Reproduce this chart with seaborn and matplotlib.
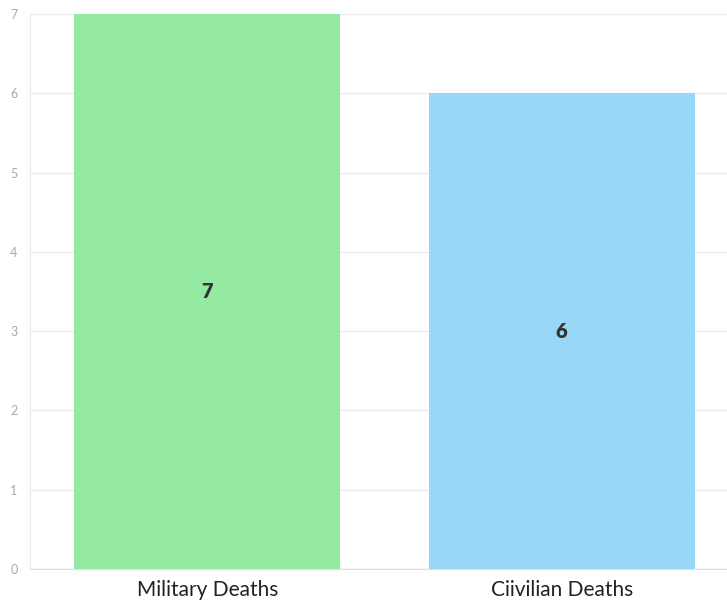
import matplotlib
matplotlib.use("Agg")
import matplotlib.pyplot as plt
import seaborn as sns
import pandas as pd

categorias = ["Military Deaths", "Ciivilian Deaths"]
valores = [7, 6]
colores = ["#94eaa0", "#98d7f7"]

df = pd.DataFrame({"categoria": categorias, "valor": valores})

sns.set_style("white")
plt.rcParams["font.family"] = ["Lato", "DejaVu Sans"]

fig = plt.figure(figsize=(7.27, 6.01), dpi=100)
ax = fig.add_axes([30 / 727, 32 / 601, 709 / 727, 555 / 601])

sns.barplot(data=df, x="categoria", y="valor", hue="categoria",
            palette=colores, width=0.75, saturation=1, legend=False,
            linewidth=0, ax=ax, zorder=2)

# etiquetas dentro de las barras
for i, v in enumerate(valores):
    ax.text(i, v / 2, str(v), ha="center", va="center",
            fontsize=14.5, fontweight="heavy", color="#333333", zorder=3)

ax.set_xlim(-0.5, 1.5)
ax.set_ylim(0, 7)
ax.set_yticks(range(0, 8))
ax.grid(axis="y", color="#ebebeb", linewidth=1, zorder=0)
ax.set_axisbelow(True)
ax.set_xlabel("")
ax.set_ylabel("")

for s in ["top", "right"]:
    ax.spines[s].set_visible(False)
ax.spines["left"].set_color("#ebebeb")
ax.spines["bottom"].set_color("#e0e0e0")

ax.tick_params(axis="y", length=5, color="#ebebeb", labelsize=9, labelcolor="#aaaaaa", pad=4)
ax.tick_params(axis="x", length=5, color="#e0e0e0", labelsize=15, labelcolor="#222222", pad=3)

plt.savefig("out.png", dpi=100)
